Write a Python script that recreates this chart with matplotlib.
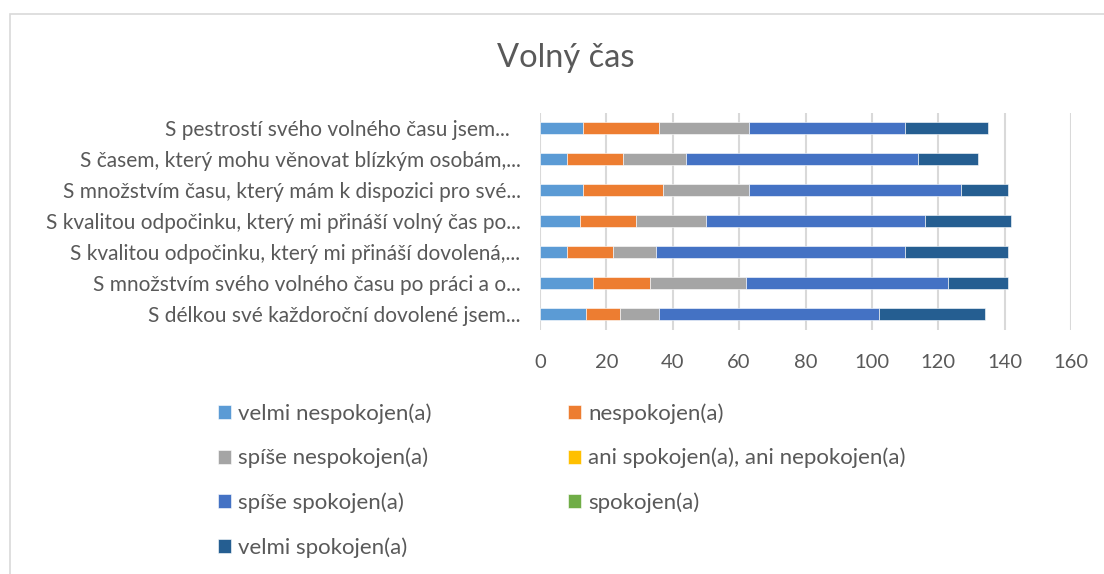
import matplotlib.pyplot as plt
import numpy as np
from matplotlib.patches import Rectangle

plt.rcParams['font.family'] = ['Lato', 'DejaVu Sans']

# categories listed bottom to top (barh order)
categories = [
    'S délkou své každoroční dovolené jsem...',
    'S množstvím svého volného času po práci a o...',
    'S kvalitou odpočinku, který mi přináší dovolená,...',
    'S kvalitou odpočinku, který mi přináší volný čas po...',
    'S množstvím času, který mám k dispozici pro své...',
    'S časem, který mohu věnovat blízkým osobám,...',
    'S pestrostí svého volného času jsem...  ',
]

series_names = [
    'velmi nespokojen(a)',
    'nespokojen(a)',
    'spíše nespokojen(a)',
    'ani spokojen(a), ani nepokojen(a)',
    'spíše spokojen(a)',
    'spokojen(a)',
    'velmi spokojen(a)',
]

velmi_nespokojen = [14, 16, 8, 12, 13, 8, 13]
nespokojen = [10, 17, 14, 17, 24, 17, 23]
spise_nespokojen = [12, 29, 13, 21, 26, 19, 27]
ani_ani = [0, 0, 0, 0, 0, 0, 0]
spise_spokojen = [66, 61, 75, 66, 64, 70, 47]
spokojen = [0, 0, 0, 0, 0, 0, 0]
velmi_spokojen = [32, 18, 31, 26, 14, 18, 25]

colors = ['#5B9BD5', '#ED7D31', '#A5A5A5', '#FFC000', '#4472C4', '#70AD47', '#255E91']

data = [velmi_nespokojen, nespokojen, spise_nespokojen, ani_ani,
        spise_spokojen, spokojen, velmi_spokojen]

fig = plt.figure(figsize=(11.04, 5.74), dpi=100)
ax = fig.add_axes([540 / 1104, 1 - 329.5 / 574, 531 / 1104, 217 / 574])

y = np.arange(len(categories))
left = np.zeros(len(categories))
handles = []
for vals, name, c in zip(data, series_names, colors):
    b = ax.barh(y, vals, left=left, height=0.4, color=c, label=name,
                edgecolor='white', linewidth=0.4, zorder=3)
    handles.append(b)
    left += np.array(vals)

ax.set_xlim(0, 160)
ax.set_ylim(-0.5, len(categories) - 0.5)
ax.set_xticks(np.arange(0, 161, 20))
ax.set_yticks(y)
ax.set_yticklabels(categories)
ax.tick_params(axis='both', length=0, colors='#595959')
ax.tick_params(axis='x', pad=17.5, labelsize=14.5)
ax.tick_params(axis='y', pad=14, labelsize=15)
ax.grid(axis='x', color='#D9D9D9', linewidth=1.5, zorder=0)
for s in ax.spines.values():
    s.set_visible(False)

fig.text(566 / 1104, 1 - 58 / 574, 'Volný čas', ha='center', va='center',
         fontsize=23.5, color='#595959')

order = [0, 2, 4, 6, 1, 3, 5]
leg = fig.legend([handles[i] for i in order], [series_names[i] for i in order],
                 ncol=2, loc='upper left', bbox_to_anchor=(198 / 1104, 1 - 383 / 574),
                 frameon=False, fontsize=16, labelcolor='#595959',
                 handlelength=0.6, handleheight=0.6, handletextpad=0.32,
                 labelspacing=1.09, columnspacing=6.1)

# chart border
fig.patches.append(Rectangle((10 / 1104, -0.1), 1.2, 1 - 14 / 574 + 0.1,
                             transform=fig.transFigure, fill=False,
                             edgecolor='#D9D9D9', linewidth=1.2))

fig.savefig('out.png', dpi=100)
